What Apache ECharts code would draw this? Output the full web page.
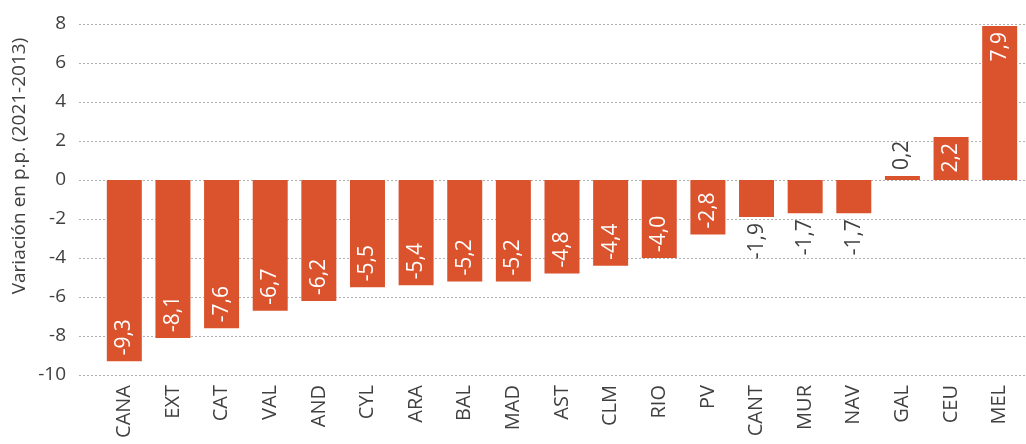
<!DOCTYPE html>
<html><head><meta charset="utf-8">
<script src="https://cdn.jsdelivr.net/npm/echarts@6/dist/echarts.min.js"></script>
<style>html,body{margin:0;padding:0;background:#fff}#c{width:1026px;height:444px}</style>
</head><body><div id="c"></div>
<script>
const cats = ['CANA','EXT','CAT','VAL','AND','CYL','ARA','BAL','MAD','AST','CLM','RIO','PV','CANT','MUR','NAV','GAL','CEU','MEL'];
const values = [-9.3,-8.1,-7.6,-6.7,-6.2,-5.5,-5.4,-5.2,-5.2,-4.8,-4.4,-4.0,-2.8,-1.9,-1.7,-1.7,0.2,2.2,7.9];
const yTitle = 'Variación en p.p. (2021-2013)';
const yMin = -10, yMax = 8, yStep = 2;

const FONT = '"Open Sans", "Noto Sans", sans-serif';
const TXT = '#404040';
const BAR = '#DB532D';

function fmt(v){ return v.toFixed(1).replace('.', ','); }

const data = values.map(function(v){
  const inside = Math.abs(v) >= 2;
  let pos, align;
  if (v < 0) { pos = inside ? 'insideBottom' : 'bottom'; align = inside ? 'left' : 'right'; }
  else { pos = inside ? 'insideTop' : 'top'; align = inside ? 'right' : 'left'; }
  return {
    value: v,
    label: { position: pos, align: align, color: inside ? '#ffffff' : TXT }
  };
});

const chart = echarts.init(document.getElementById('c'), null, {renderer:'canvas'});
chart.setOption({
  animation: false,
  grid: [
    {left: 79, right: 0, top: 24, bottom: 69},
    {left: 100, right: 2, top: 24, bottom: 69}
  ],
  xAxis: [
    {gridIndex: 0, type: 'value', min: 0, max: 1, show: false},
    {gridIndex: 1, type: 'category', data: cats,
     axisLine: {show: false}, axisTick: {show: false},
     axisLabel: {rotate: 90, margin: 10, fontFamily: FONT, fontSize: 20, color: TXT, interval: 0}}
  ],
  yAxis: [
    {gridIndex: 0, type: 'value', min: yMin, max: yMax, interval: yStep,
     axisLine: {show: false}, axisTick: {show: false},
     axisLabel: {margin: 13, fontFamily: FONT, fontSize: 19, color: TXT},
     splitLine: {show: true, lineStyle: {color: '#b0b0b0', type: [2, 2], width: 1}}},
    {gridIndex: 1, type: 'value', min: yMin, max: yMax, interval: yStep, show: false,
     splitLine: {show: false}}
  ],
  graphic: [{
    type: 'text', x: 20, y: 166, rotation: Math.PI / 2,
    style: {text: yTitle, fontFamily: FONT, fontSize: 19, fill: TXT, align: 'center', verticalAlign: 'middle'}
  }],
  series: [{
    type: 'bar', xAxisIndex: 1, yAxisIndex: 1,
    data: data,
    barWidth: 35,
    itemStyle: {color: BAR},
    label: {show: true, rotate: 90, verticalAlign: 'middle', distance: 6,
            fontFamily: FONT, fontSize: 21,
            formatter: function(p){ return fmt(p.value); }}
  }]
});
</script>
</body></html>
